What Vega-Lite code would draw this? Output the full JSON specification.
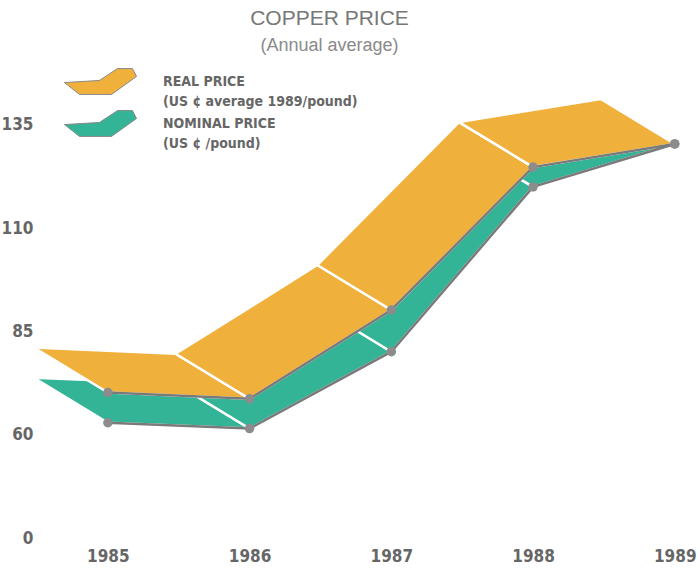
{
  "$schema": "https://vega.github.io/schema/vega-lite/v6.json",
  "width": 659,
  "height": 475,
  "autosize": {"type": "none"},
  "padding": {"left": 37, "top": 63, "right": 4, "bottom": 30},
  "background": "white",
  "config": {"view": {"stroke": null}, "style": {"guide-label": {"lineHeight": 20}}},
  "title": {
    "text": "COPPER PRICE",
    "subtitle": "(Annual average)",
    "anchor": "middle",
    "dx": -37,
    "offset": 8,
    "font": "Liberation Sans, Arial, sans-serif",
    "fontSize": 21,
    "fontWeight": "normal",
    "color": "#777777",
    "subtitleFont": "Liberation Sans, Arial, sans-serif",
    "subtitleFontSize": 18,
    "subtitleColor": "#8a8a8a",
    "subtitlePadding": 8
  },
  "datasets": {
    "points": [
      {"series": "Real", "year": 1985, "price": 70.2},
      {"series": "Real", "year": 1986, "price": 68.7},
      {"series": "Real", "year": 1987, "price": 90.2},
      {"series": "Real", "year": 1988, "price": 124.8},
      {"series": "Real", "year": 1989, "price": 130.4},
      {"series": "Nominal", "year": 1985, "price": 62.9},
      {"series": "Nominal", "year": 1986, "price": 61.5},
      {"series": "Nominal", "year": 1987, "price": 80.1},
      {"series": "Nominal", "year": 1988, "price": 120.0},
      {"series": "Nominal", "year": 1989, "price": 130.4}
    ],
    "ribbon": [
      {"series": "Nominal", "seg": "N1", "v": 1, "year": 1985, "price": 62.9, "depth": 0},
      {"series": "Nominal", "seg": "N1", "v": 2, "year": 1986, "price": 61.5, "depth": 0},
      {"series": "Nominal", "seg": "N1", "v": 3, "year": 1986, "price": 61.5, "depth": 1},
      {"series": "Nominal", "seg": "N1", "v": 4, "year": 1985, "price": 62.9, "depth": 1},
      {"series": "Nominal", "seg": "N2", "v": 1, "year": 1986, "price": 61.5, "depth": 0},
      {"series": "Nominal", "seg": "N2", "v": 2, "year": 1987, "price": 80.1, "depth": 0},
      {"series": "Nominal", "seg": "N2", "v": 3, "year": 1987, "price": 80.1, "depth": 1},
      {"series": "Nominal", "seg": "N2", "v": 4, "year": 1986, "price": 61.5, "depth": 1},
      {"series": "Nominal", "seg": "N3", "v": 1, "year": 1987, "price": 80.1, "depth": 0},
      {"series": "Nominal", "seg": "N3", "v": 2, "year": 1988, "price": 120.0, "depth": 0},
      {"series": "Nominal", "seg": "N3", "v": 3, "year": 1988, "price": 120.0, "depth": 1},
      {"series": "Nominal", "seg": "N3", "v": 4, "year": 1987, "price": 80.1, "depth": 1},
      {"series": "Nominal", "seg": "N4", "v": 1, "year": 1988, "price": 120.0, "depth": 0},
      {"series": "Nominal", "seg": "N4", "v": 2, "year": 1989, "price": 130.4, "depth": 0},
      {"series": "Nominal", "seg": "N4", "v": 3, "year": 1989, "price": 130.4, "depth": 1},
      {"series": "Nominal", "seg": "N4", "v": 4, "year": 1988, "price": 120.0, "depth": 1},
      {"series": "Real", "seg": "R1", "v": 1, "year": 1985, "price": 70.2, "depth": 0},
      {"series": "Real", "seg": "R1", "v": 2, "year": 1986, "price": 68.7, "depth": 0},
      {"series": "Real", "seg": "R1", "v": 3, "year": 1986, "price": 68.7, "depth": 1},
      {"series": "Real", "seg": "R1", "v": 4, "year": 1985, "price": 70.2, "depth": 1},
      {"series": "Real", "seg": "R2", "v": 1, "year": 1986, "price": 68.7, "depth": 0},
      {"series": "Real", "seg": "R2", "v": 2, "year": 1987, "price": 90.2, "depth": 0},
      {"series": "Real", "seg": "R2", "v": 3, "year": 1987, "price": 90.2, "depth": 1},
      {"series": "Real", "seg": "R2", "v": 4, "year": 1986, "price": 68.7, "depth": 1},
      {"series": "Real", "seg": "R3", "v": 1, "year": 1987, "price": 90.2, "depth": 0},
      {"series": "Real", "seg": "R3", "v": 2, "year": 1988, "price": 124.8, "depth": 0},
      {"series": "Real", "seg": "R3", "v": 3, "year": 1988, "price": 124.8, "depth": 1},
      {"series": "Real", "seg": "R3", "v": 4, "year": 1987, "price": 90.2, "depth": 1},
      {"series": "Real", "seg": "R4", "v": 1, "year": 1988, "price": 124.8, "depth": 0},
      {"series": "Real", "seg": "R4", "v": 2, "year": 1989, "price": 130.4, "depth": 0},
      {"series": "Real", "seg": "R4", "v": 3, "year": 1989, "price": 130.4, "depth": 1},
      {"series": "Real", "seg": "R4", "v": 4, "year": 1988, "price": 124.8, "depth": 1}
    ]
  },
  "encoding": {
    "x": {
      "field": "year",
      "type": "quantitative",
      "scale": {"domain": [1984.5, 1989.15], "nice": false, "zero": false},
      "axis": {
        "values": [1985, 1986, 1987, 1988, 1989],
        "format": "d",
        "title": null,
        "domain": false,
        "ticks": false,
        "grid": false,
        "labelFlush": false,
        "labelOverlap": false,
        "labelBound": false,
        "labelPadding": 10,
        "labelFont": "DejaVu Sans Condensed, sans-serif",
        "labelFontSize": 17,
        "labelFontWeight": "bold",
        "labelColor": "#666666"
      }
    },
    "y": {
      "field": "price",
      "type": "quantitative",
      "scale": {"domain": [35, 150], "nice": false, "zero": false},
      "axis": {
        "values": [35, 60, 85, 110, 135],
        "labelExpr": "datum.value == 35 ? '0' : datum.label",
        "title": null,
        "domain": false,
        "ticks": false,
        "grid": false,
        "labelPadding": 4,
        "labelFont": "DejaVu Sans Condensed, sans-serif",
        "labelFontSize": 17,
        "labelFontWeight": "bold",
        "labelColor": "#666666"
      }
    }
  },
  "layer": [
    {
      "data": {"name": "ribbon"},
      "mark": {
        "type": "line",
        "interpolate": "linear-closed",
        "stroke": "white",
        "strokeWidth": 2.5,
        "strokeJoin": "miter",
        "xOffset": {"expr": "datum.depth * -74"},
        "yOffset": {"expr": "datum.depth * -45"}
      },
      "encoding": {
        "detail": {"field": "seg"},
        "order": {"field": "v", "type": "quantitative"},
        "fill": {
          "field": "series",
          "type": "nominal",
          "scale": {"domain": ["Real", "Nominal"], "range": ["#F0B03C", "#33B496"]},
          "legend": {
            "title": null,
            "orient": "none",
            "legendX": 51,
            "legendY": 6,
            "symbolType": "M -3.09 0.09 L -0.09 -0.09 L 1.46 -1.11 L 2.74 -1.11 L 3.09 -0.43 L 0.94 1.11 L -1.8 1.11 Z",
            "symbolSize": 544,
            "symbolStrokeColor": "#8a8a8a",
            "symbolStrokeWidth": 1,
            "symbolOpacity": 1,
            "labelOffset": 50,
            "rowPadding": -1,
            "labelExpr": "datum.value == 'Real' ? ['REAL PRICE', '(US ¢ average 1989/pound)'] : ['NOMINAL PRICE', '(US ¢ /pound)']",
            "labelFont": "DejaVu Sans Condensed, sans-serif",
            "labelFontSize": 14,
            "labelFontWeight": "bold",
            "labelColor": "#666666",
            "labelLimit": 300
          }
        }
      }
    },
    {
      "data": {"name": "points"},
      "mark": {"type": "line", "color": "#7a7a7a", "strokeWidth": 2.5},
      "encoding": {
        "detail": {"field": "series"},
        "order": {"field": "year", "type": "quantitative"}
      }
    },
    {
      "data": {"name": "points"},
      "mark": {"type": "circle", "color": "#8c8c8c", "size": 90, "opacity": 1},
      "encoding": {}
    }
  ]
}
